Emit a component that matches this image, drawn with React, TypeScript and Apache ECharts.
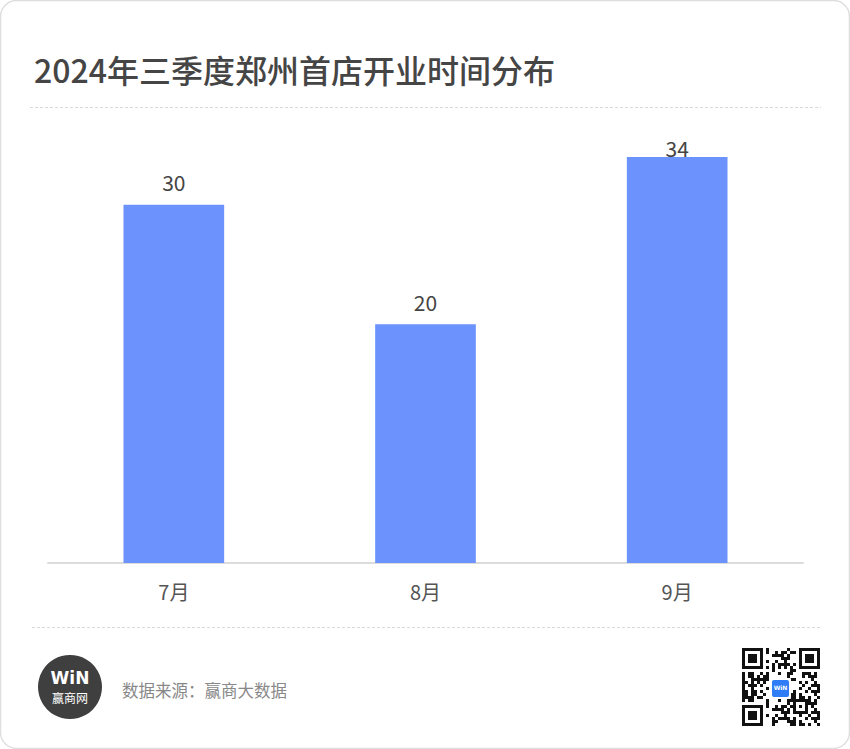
import React, { useEffect, useRef } from "react";
import * as echarts from "echarts";

const TITLE = "2024年三季度郑州首店开业时间分布";
const SOURCE = "数据来源：赢商大数据";
const months = ["7月", "8月", "9月"];
const openings = [30, 20, 34];

const FONT = "'Noto Sans CJK SC', 'Noto Sans', sans-serif";

function qrElements(x0: number, y0: number, cell: number, n: number) {
  const on = (i: number, j: number) => {
    const inFinder = (a: number, b: number) => {
      const r = i - a, c = j - b;
      if (r < 0 || r > 6 || c < 0 || c > 6) return null;
      if (r === 0 || r === 6 || c === 0 || c === 6) return true;
      if (r >= 2 && r <= 4 && c >= 2 && c <= 4) return true;
      return false;
    };
    const f = inFinder(0, 0) ?? inFinder(0, n - 7) ?? inFinder(n - 7, 0);
    if (f !== null) return f;
    if ((i === 7 && j <= 7) || (j === 7 && i <= 7)) return false;
    if (i === 7 && j >= n - 8) return false;
    if (j === n - 8 && i <= 7) return false;
    if (i === n - 8 && j <= 7) return false;
    if (j === 7 && i >= n - 8) return false;
    const ar = i - (n - 9), ac = j - (n - 9);
    if (ar >= 0 && ar <= 4 && ac >= 0 && ac <= 4) {
      if (ar === 0 || ar === 4 || ac === 0 || ac === 4) return true;
      return ar === 2 && ac === 2;
    }
    if (i === 6) return j % 2 === 0;
    if (j === 6) return i % 2 === 0;
    return ((i * i * 3 + j * 7 + i * j * 5 + (j * j) % 11) % 9) < 4;
  };
  const els: any[] = [];
  for (let i = 0; i < n; i++) {
    let j = 0;
    while (j < n) {
      if (on(i, j)) {
        let k = j;
        while (k < n && on(i, k)) k++;
        els.push({
          type: "rect",
          shape: { x: x0 + j * cell, y: y0 + i * cell, width: (k - j) * cell, height: cell },
          style: { fill: "#111" },
          silent: true,
        });
        j = k;
      } else j++;
    }
  }
  return els;
}

export default function App() {
  const ref = useRef<HTMLDivElement>(null);
  useEffect(() => {
    if (!ref.current) return;
    const chart = echarts.init(ref.current, null, { renderer: "svg" });
    const qr = qrElements(742, 648, 3, 26);
    chart.setOption({
      animation: false,
      backgroundColor: "transparent",
      title: {
        text: TITLE,
        left: 29,
        top: 48,
        textStyle: { fontFamily: FONT, fontSize: 32, fontWeight: 500, color: "#454545" },
      },
      grid: { left: 48, right: 47, top: 157, bottom: 186 },
      xAxis: {
        type: "category",
        data: months,
        axisLine: { lineStyle: { color: "#dcdcdc", width: 2 } },
        axisTick: { show: false },
        axisLabel: { fontFamily: FONT, fontSize: 20, color: "#555", margin: 18 },
      },
      yAxis: {
        type: "value",
        min: 0,
        max: 34,
        show: false,
        splitLine: { show: false },
      },
      series: [
        {
          type: "bar",
          barWidth: "40%",
          data: openings.map((v, i) =>
            i === 2 ? { value: v, label: { distance: -1 } } : v
          ),
          itemStyle: { color: "#6b92fd" },
          label: {
            show: true,
            position: "top",
            distance: 12,
            fontFamily: FONT,
            fontSize: 21,
            color: "#444",
          },
        },
      ],
      graphic: [
        {
          type: "rect",
          z: -10,
          shape: { x: 0.5, y: 0.5, width: 849, height: 748, r: 16 },
          style: { fill: "#fff", stroke: "#dedede", lineWidth: 1.5 },
          silent: true,
        },
        {
          type: "line",
          shape: { x1: 30, y1: 107.5, x2: 821, y2: 107.5 },
          style: { stroke: "#d9d9d9", lineWidth: 1, lineDash: [3, 2] },
          silent: true,
        },
        {
          type: "line",
          shape: { x1: 32, y1: 627.5, x2: 821, y2: 627.5 },
          style: { stroke: "#d9d9d9", lineWidth: 1, lineDash: [3, 2] },
          silent: true,
        },
        {
          type: "circle",
          shape: { cx: 70, cy: 687, r: 32 },
          style: { fill: "#3f3f3f" },
          silent: true,
        },
        {
          type: "text",
          x: 70,
          y: 678,
          style: {
            text: "WiN",
            fontFamily: "'DejaVu Sans', sans-serif",
            fontSize: 17,
            fontWeight: 900,
            fill: "#fff",
            align: "center",
            verticalAlign: "middle",
          },
          silent: true,
        },
        {
          type: "text",
          x: 70,
          y: 697,
          style: {
            text: "赢商网",
            fontFamily: FONT,
            fontSize: 12,
            fill: "#fff",
            align: "center",
            verticalAlign: "middle",
          },
          silent: true,
        },
        {
          type: "text",
          x: 122,
          y: 690,
          style: {
            text: SOURCE,
            fontFamily: FONT,
            fontSize: 16.5,
            fill: "#888",
            align: "left",
            verticalAlign: "middle",
          },
          silent: true,
        },
        ...qr,
        {
          type: "rect",
          shape: { x: 770, y: 678, width: 21, height: 21, r: 1 },
          style: { fill: "#fff" },
          silent: true,
        },
        {
          type: "rect",
          shape: { x: 772, y: 680, width: 17, height: 17, r: 2 },
          style: { fill: "#2e7cf6" },
          silent: true,
        },
        {
          type: "text",
          x: 780.5,
          y: 687,
          style: {
            text: "WiN",
            fontFamily: "'DejaVu Sans', sans-serif",
            fontSize: 6,
            fontWeight: 900,
            fill: "#fff",
            align: "center",
            verticalAlign: "middle",
          },
          silent: true,
        },
      ],
    });
    return () => chart.dispose();
  }, []);
  return (
    <div
      ref={ref}
      style={{ position: "fixed", left: 0, top: 0, width: 850, height: 749, background: "#fff" }}
    />
  );
}
